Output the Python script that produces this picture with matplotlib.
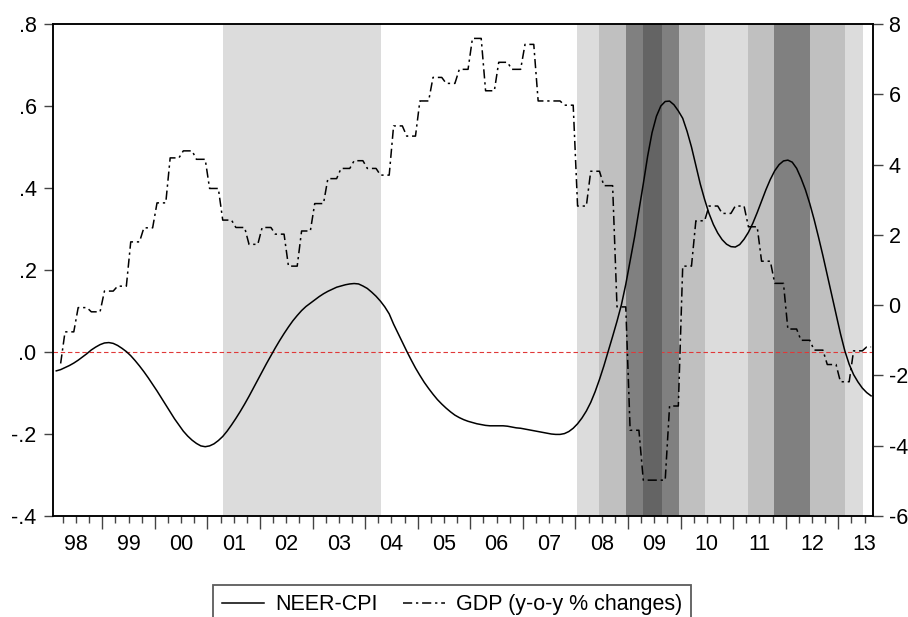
import matplotlib.pyplot as plt
import numpy as np

plt.rcParams['font.family'] = ['Liberation Sans', 'DejaVu Sans']

# NEER-CPI (left axis), monthly 1998M02 - 2013M08
neer_cpi = [
    -0.046, -0.043, -0.038, -0.033, -0.027, -0.020, -0.012, -0.004, 0.005, 0.012, 0.018,   # 1998
    0.022, 0.023, 0.021, 0.016, 0.009, 0.001, -0.009, -0.021, -0.034, -0.048, -0.063, -0.079,  # 1999
    -0.095, -0.112, -0.129, -0.146, -0.163, -0.178, -0.193, -0.205, -0.215, -0.223, -0.229, -0.231,  # 2000
    -0.229, -0.224, -0.216, -0.206, -0.193, -0.178, -0.162, -0.145, -0.127, -0.108, -0.088, -0.068,  # 2001
    -0.048, -0.028, -0.009, 0.010, 0.028, 0.045, 0.061, 0.076, 0.089, 0.101, 0.111, 0.119,  # 2002
    0.127, 0.135, 0.142, 0.148, 0.153, 0.158, 0.161, 0.164, 0.166, 0.167, 0.166, 0.161,  # 2003
    0.155, 0.146, 0.136, 0.124, 0.110, 0.093, 0.068, 0.046, 0.024, 0.002, -0.019, -0.039,  # 2004
    -0.057, -0.074, -0.089, -0.103, -0.116, -0.127, -0.137, -0.146, -0.154, -0.160, -0.165, -0.169,  # 2005
    -0.172, -0.175, -0.177, -0.179, -0.180, -0.180, -0.180, -0.180, -0.181, -0.183, -0.185, -0.186,  # 2006
    -0.188, -0.190, -0.192, -0.194, -0.196, -0.198, -0.200, -0.201, -0.201, -0.199, -0.194, -0.186,  # 2007
    -0.175, -0.161, -0.144, -0.123, -0.097, -0.067, -0.034, 0.002, 0.038, 0.075, 0.115, 0.165,  # 2008
    0.222, 0.280, 0.345, 0.410, 0.478, 0.535, 0.575, 0.600, 0.611, 0.612, 0.603, 0.588,  # 2009
    0.570, 0.538, 0.500, 0.455, 0.410, 0.372, 0.338, 0.311, 0.290, 0.274, 0.263, 0.257,  # 2010
    0.256, 0.262, 0.275, 0.292, 0.314, 0.340, 0.368, 0.396, 0.421, 0.442, 0.457, 0.466,  # 2011
    0.468, 0.463, 0.448, 0.424, 0.396, 0.362, 0.323, 0.280, 0.235, 0.188, 0.140, 0.092,  # 2012
    0.045, 0.003, -0.030, -0.055, -0.073, -0.088, -0.099, -0.107,  # 2013
]

# GDP y-o-y % changes (right axis), quarterly 1998Q1 - 2013Q3
# (the workfile is monthly, the series starts in March 1998)
gdp_yoy = [
    -1.66, -0.76, -0.07, -0.19,   # 1998
    0.40, 0.54, 1.80, 2.20,       # 1999
    2.91, 4.19, 4.39, 4.15,       # 2000
    3.32, 2.42, 2.21, 1.73,       # 2001
    2.21, 2.02, 1.11, 2.11,       # 2002
    2.89, 3.60, 3.89, 4.11,       # 2003
    3.89, 3.70, 5.10, 4.81,       # 2004
    5.81, 6.48, 6.31, 6.71,       # 2005
    7.59, 6.10, 6.91, 6.71,       # 2006
    7.42, 5.81, 5.81, 5.69,       # 2007
    2.82, 3.81, 3.40, -0.05,      # 2008
    -3.56, -4.98, -4.98, -2.87,   # 2009
    1.11, 2.40, 2.82, 2.61,       # 2010
    2.82, 2.23, 1.25, 0.62,       # 2011
    -0.68, -1.00, -1.28, -1.69,   # 2012
    -2.18, -1.30, -1.19,          # 2013
]

# shaded periods (decimal years) and shade level
band_start = [2001.30, 2008.04, 2008.45, 2008.96, 2009.28, 2009.65, 2009.98,
              2010.47, 2011.29, 2011.78, 2012.46, 2013.13]
band_end = [2004.30, 2008.45, 2008.96, 2009.28, 2009.65, 2009.98, 2010.47,
            2011.29, 2011.78, 2012.46, 2013.13, 2013.47]
band_level = [1, 1, 2, 3, 4, 3, 2, 1, 2, 3, 2, 1]

years = list(range(1998, 2014))
year_labels = ['98', '99', '00', '01', '02', '03', '04', '05',
               '06', '07', '08', '09', '10', '11', '12', '13']

shade_colors = {1: '#dcdcdc', 2: '#c0c0c0', 3: '#808080', 4: '#646464'}

# monthly time axis 1998M01 - 2013M08
n_months = 188
t_month = 1998 + (np.arange(n_months) + 0.5) / 12
t_neer = t_month[1:]
gdp_month = np.repeat(np.array(gdp_yoy), 3)[:n_months]
gdp_month[:2] = np.nan

fig = plt.figure(figsize=(9.08, 6.17), dpi=100)
ax = fig.add_axes([53 / 908, 1 - 516 / 617, (873.3 - 53) / 908, (516 - 24) / 617])
ax2 = ax.twinx()

for s, e, lv in zip(band_start, band_end, band_level):
    # the darkest band sits over the zero line, as in the original
    ax.axvspan(s, e, color=shade_colors[lv], lw=0, zorder=1.5 if lv == 4 else 0.5)

ax.axhline(0, color='#e03838', lw=0.8, dashes=(4, 2.5), zorder=1)

l1, = ax.plot(t_neer, neer_cpi, color='black', lw=1.1, zorder=3)
l2, = ax2.plot(t_month, gdp_month, color='black', lw=1.1,
               dashes=(6, 2.5, 1.5, 2.5), zorder=3)

ax.set_xlim(1998.063, 2013.667)
ax.set_ylim(-0.4, 0.8)
ax2.set_ylim(-6, 8)

ax.set_yticks([-0.4, -0.2, 0.0, 0.2, 0.4, 0.6, 0.8],
              ['-.4', '-.2', '.0', '.2', '.4', '.6', '.8'])
ax2.set_yticks(range(-6, 9, 2), [str(v) for v in range(-6, 9, 2)])

# year ticks long, quarter ticks short, labels centred in each year
ax.set_xticks(years[1:], [''] * len(years[1:]))
q_pos, q_lab = [], []
for y, lab in zip(years, year_labels):
    for q in (0.25, 0.5, 0.75):
        if y + q < 2013.667:
            q_pos.append(y + q)
            q_lab.append(lab if q == 0.5 else '')
ax.set_xticks(q_pos, q_lab, minor=True)

ax.tick_params(axis='x', which='major', length=9.5, width=1.0, color='#444444')
ax.tick_params(axis='x', which='minor', length=5, width=1.0, color='#444444',
               labelsize=15.5, pad=8)
ax.tick_params(axis='y', length=6.8, width=1.0, color='#444444', labelsize=15.5, pad=5)
ax2.tick_params(axis='y', length=7, width=1.0, color='#444444', labelsize=15.5, pad=4)

for a in (ax, ax2):
    for sp in a.spines.values():
        sp.set_linewidth(1.1)
        sp.set_color('black')

leg = fig.legend([l1, l2], ['NEER-CPI', 'GDP (y-o-y % changes)'],
                 loc='upper left', bbox_to_anchor=(213.3 / 908, 1 - 585 / 617),
                 borderaxespad=0, ncol=2, fontsize=15.5, frameon=True, fancybox=False,
                 edgecolor='#333333', handlelength=1.95, handletextpad=0.5,
                 columnspacing=1.2, borderpad=0.42)
leg.get_frame().set_linewidth(1.3)

fig.savefig('out.png', dpi=100)
